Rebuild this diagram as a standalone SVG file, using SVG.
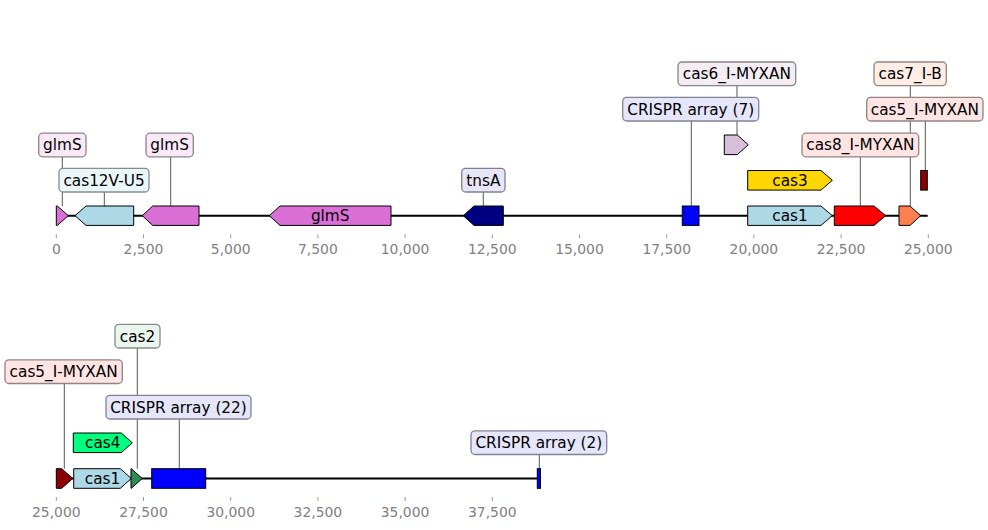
<svg xmlns="http://www.w3.org/2000/svg" width="988" height="530" viewBox="0 0 988 530">
<style>
  text { font-family: "DejaVu Sans", "Liberation Sans", sans-serif; }
  .lbl { font-size: 15.3px; fill: #000; text-anchor: middle; }
  .tick { font-size: 13.9px; fill: #808080; text-anchor: middle; }
  .tk { stroke: #999; stroke-width: 1; }
  .backbone { stroke: #000; stroke-width: 2; fill: none; }
  .gene { stroke: #000; stroke-width: 1; stroke-linejoin: miter; }
  .conn { stroke: #444; stroke-width: 0.9; fill: none; }
  .box { stroke-width: 1.3; }
</style>

<g id="axis-top">
  <line class="backbone" x1="56.3" y1="215.7" x2="927.7" y2="215.7"/>
  <g class="tk">
    <line x1="56.3" y1="234.3" x2="56.3" y2="238.3"/>
    <line x1="143.5" y1="234.3" x2="143.5" y2="238.3"/>
    <line x1="230.7" y1="234.3" x2="230.7" y2="238.3"/>
    <line x1="317.9" y1="234.3" x2="317.9" y2="238.3"/>
    <line x1="405.1" y1="234.3" x2="405.1" y2="238.3"/>
    <line x1="492.3" y1="234.3" x2="492.3" y2="238.3"/>
    <line x1="579.5" y1="234.3" x2="579.5" y2="238.3"/>
    <line x1="666.7" y1="234.3" x2="666.7" y2="238.3"/>
    <line x1="753.9" y1="234.3" x2="753.9" y2="238.3"/>
    <line x1="841.1" y1="234.3" x2="841.1" y2="238.3"/>
    <line x1="928.3" y1="234.3" x2="928.3" y2="238.3"/>
  </g>
  <text class="tick" x="56.3" y="254.3">0</text>
  <text class="tick" x="143.5" y="254.3">2,500</text>
  <text class="tick" x="230.7" y="254.3">5,000</text>
  <text class="tick" x="317.9" y="254.3">7,500</text>
  <text class="tick" x="405.1" y="254.3">10,000</text>
  <text class="tick" x="492.3" y="254.3">12,500</text>
  <text class="tick" x="579.5" y="254.3">15,000</text>
  <text class="tick" x="666.7" y="254.3">17,500</text>
  <text class="tick" x="753.9" y="254.3">20,000</text>
  <text class="tick" x="841.1" y="254.3">22,500</text>
  <text class="tick" x="928.3" y="254.3">25,000</text>
</g>

<g id="axis-bottom">
  <line class="backbone" x1="56.3" y1="478.5" x2="540.7" y2="478.5"/>
  <g class="tk">
    <line x1="56.3" y1="497" x2="56.3" y2="501"/>
    <line x1="143.5" y1="497" x2="143.5" y2="501"/>
    <line x1="230.7" y1="497" x2="230.7" y2="501"/>
    <line x1="317.9" y1="497" x2="317.9" y2="501"/>
    <line x1="405.1" y1="497" x2="405.1" y2="501"/>
    <line x1="492.3" y1="497" x2="492.3" y2="501"/>
  </g>
  <text class="tick" x="56.3" y="517">25,000</text>
  <text class="tick" x="143.5" y="517">27,500</text>
  <text class="tick" x="230.7" y="517">30,000</text>
  <text class="tick" x="317.9" y="517">32,500</text>
  <text class="tick" x="405.1" y="517">35,000</text>
  <text class="tick" x="492.3" y="517">37,500</text>
</g>

<g id="connectors">
  <line class="conn" x1="62.3" y1="156.8" x2="62.3" y2="206"/>
  <line class="conn" x1="104.3" y1="192" x2="104.3" y2="206"/>
  <line class="conn" x1="170.7" y1="156.8" x2="170.7" y2="206"/>
  <line class="conn" x1="483.3" y1="192" x2="483.3" y2="206"/>
  <line class="conn" x1="691.3" y1="121" x2="691.3" y2="206"/>
  <line class="conn" x1="737" y1="85.6" x2="737" y2="135"/>
  <line class="conn" x1="860.3" y1="156.8" x2="860.3" y2="206"/>
  <line class="conn" x1="910.3" y1="85.6" x2="910.3" y2="206"/>
  <line class="conn" x1="925.3" y1="121" x2="925.3" y2="170.5"/>
  <line class="conn" x1="137.3" y1="348" x2="137.3" y2="468.7"/>
  <line class="conn" x1="64.3" y1="383.5" x2="64.3" y2="468.7"/>
  <line class="conn" x1="179.3" y1="419" x2="179.3" y2="468.7"/>
  <line class="conn" x1="539.3" y1="454.5" x2="539.3" y2="468.7"/>
</g>

<g id="glmS-1">
  <polygon class="gene" fill="#DA70D6" points="56.3,206 57.3,206 68.3,215.7 57.3,225.4 56.3,225.4"/>
  <rect class="box" x="38.7" y="133.2" width="47.3" height="23.6" rx="4" fill="#F9E9F7" stroke="#8E828D"/>
  <text class="lbl" x="62.35" y="150.4">glmS</text>
</g>

<g id="cas12V-U5">
  <polygon class="gene" fill="#ADD8E6" points="75,215.7 86,206 133.7,206 133.7,225.4 86,225.4"/>
  <rect class="box" x="59" y="168.4" width="90" height="23.6" rx="4" fill="#EAF6F8" stroke="#858D8F"/>
  <text class="lbl" x="104" y="185.6">cas12V-U5</text>
</g>

<g id="glmS-2">
  <polygon class="gene" fill="#DA70D6" points="142.3,215.7 152.7,206 199,206 199,225.4 152.7,225.4"/>
  <rect class="box" x="146" y="133.2" width="47.3" height="23.6" rx="4" fill="#F9E9F7" stroke="#8E828D"/>
  <text class="lbl" x="169.65" y="150.4">glmS</text>
</g>

<g id="glmS-3">
  <polygon class="gene" fill="#DA70D6" points="269.3,215.7 280,206 391,206 391,225.4 280,225.4"/>
  <text class="lbl" x="330.2" y="221.1">glmS</text>
</g>

<g id="tnsA">
  <polygon class="gene" fill="#000080" points="463.3,215.7 474,206 503.3,206 503.3,225.4 474,225.4"/>
  <rect class="box" x="461.7" y="168.4" width="43.3" height="23.6" rx="4" fill="#E6E6F8" stroke="#808092"/>
  <text class="lbl" x="483.35" y="185.6">tnsA</text>
</g>

<g id="crispr-7">
  <rect class="gene" fill="#0000FF" x="682.3" y="206" width="16.7" height="19.4"/>
  <rect class="box" x="622.7" y="97.4" width="136" height="23.6" rx="4" fill="#E6E6FA" stroke="#828294"/>
  <text class="lbl" x="690.7" y="114.6">CRISPR array (7)</text>
</g>

<g id="cas6_I-MYXAN">
  <polygon class="gene" fill="#D8BFD8" points="724.3,135 737.3,135 748.3,144.8 737.3,154.6 724.3,154.6"/>
  <rect class="box" x="678" y="62" width="117.7" height="23.6" rx="4" fill="#F4EEF4" stroke="#8A848A"/>
  <text class="lbl" x="736.85" y="79.2">cas6_I-MYXAN</text>
</g>

<g id="cas3">
  <polygon class="gene" fill="#FFD700" points="747.7,170.5 821,170.5 832.3,180.3 821,190.1 747.7,190.1"/>
  <text class="lbl" x="790" y="185.7">cas3</text>
</g>

<g id="cas1-top">
  <polygon class="gene" fill="#ADD8E6" points="747.7,206 821,206 832.3,215.7 821,225.4 747.7,225.4"/>
  <text class="lbl" x="790" y="221.1">cas1</text>
</g>

<g id="cas8_I-MYXAN">
  <polygon class="gene" fill="#FF0000" points="834.3,206 874,206 885.7,215.7 874,225.4 834.3,225.4"/>
  <rect class="box" x="802" y="133.2" width="116.7" height="23.6" rx="4" fill="#FFE4E4" stroke="#928282"/>
  <text class="lbl" x="860.35" y="150.4">cas8_I-MYXAN</text>
</g>

<g id="cas7_I-B">
  <polygon class="gene" fill="#FF7F50" points="899,206 910,206 920.7,215.7 910,225.4 899,225.4"/>
  <rect class="box" x="874" y="62" width="72.3" height="23.6" rx="4" fill="#FFEDE6" stroke="#928682"/>
  <text class="lbl" x="910.15" y="79.2">cas7_I-B</text>
</g>

<g id="cas5_I-MYXAN-top">
  <rect class="gene" fill="#8B0000" x="920.7" y="170.5" width="6.6" height="19.6"/>
  <rect class="box" x="866.7" y="97.4" width="116.3" height="23.6" rx="4" fill="#FFE4E4" stroke="#928282"/>
  <text class="lbl" x="924.85" y="114.6">cas5_I-MYXAN</text>
</g>

<g id="cas5_I-MYXAN-bottom">
  <polygon class="gene" fill="#8B0000" points="56.3,468.7 61.7,468.7 72.7,478.5 61.7,488.3 56.3,488.3"/>
  <rect class="box" x="5" y="359.9" width="117.3" height="23.6" rx="4" fill="#FFE4E4" stroke="#928282"/>
  <text class="lbl" x="63.65" y="377.1">cas5_I-MYXAN</text>
</g>

<g id="cas1-bottom">
  <polygon class="gene" fill="#ADD8E6" points="73.7,468.7 120.3,468.7 131.3,478.5 120.3,488.3 73.7,488.3"/>
  <text class="lbl" x="102.5" y="483.9">cas1</text>
</g>

<g id="cas4">
  <polygon class="gene" fill="#00FF7F" points="73.3,433 121.3,433 132.3,442.8 121.3,452.6 73.3,452.6"/>
  <text class="lbl" x="102.8" y="448.2">cas4</text>
</g>

<g id="cas2">
  <polygon class="gene" fill="#2E8B57" points="131,468.7 131.3,468.7 142.3,478.5 131.3,488.3 131,488.3"/>
  <rect class="box" x="115" y="324.4" width="45" height="23.6" rx="4" fill="#EAF5EE" stroke="#828E86"/>
  <text class="lbl" x="137.5" y="341.6">cas2</text>
</g>

<g id="crispr-22">
  <rect class="gene" fill="#0000FF" x="151.7" y="468.7" width="54" height="19.6"/>
  <rect class="box" x="106" y="395.4" width="145" height="23.6" rx="4" fill="#E6E6FA" stroke="#828294"/>
  <text class="lbl" x="178.5" y="412.6">CRISPR array (22)</text>
</g>

<g id="crispr-2">
  <rect class="gene" fill="#0000FF" x="537.3" y="468.7" width="3.2" height="19.6"/>
  <rect class="box" x="471" y="430.9" width="135.7" height="23.6" rx="4" fill="#E6E6FA" stroke="#828294"/>
  <text class="lbl" x="538.85" y="448.1">CRISPR array (2)</text>
</g>
</svg>
